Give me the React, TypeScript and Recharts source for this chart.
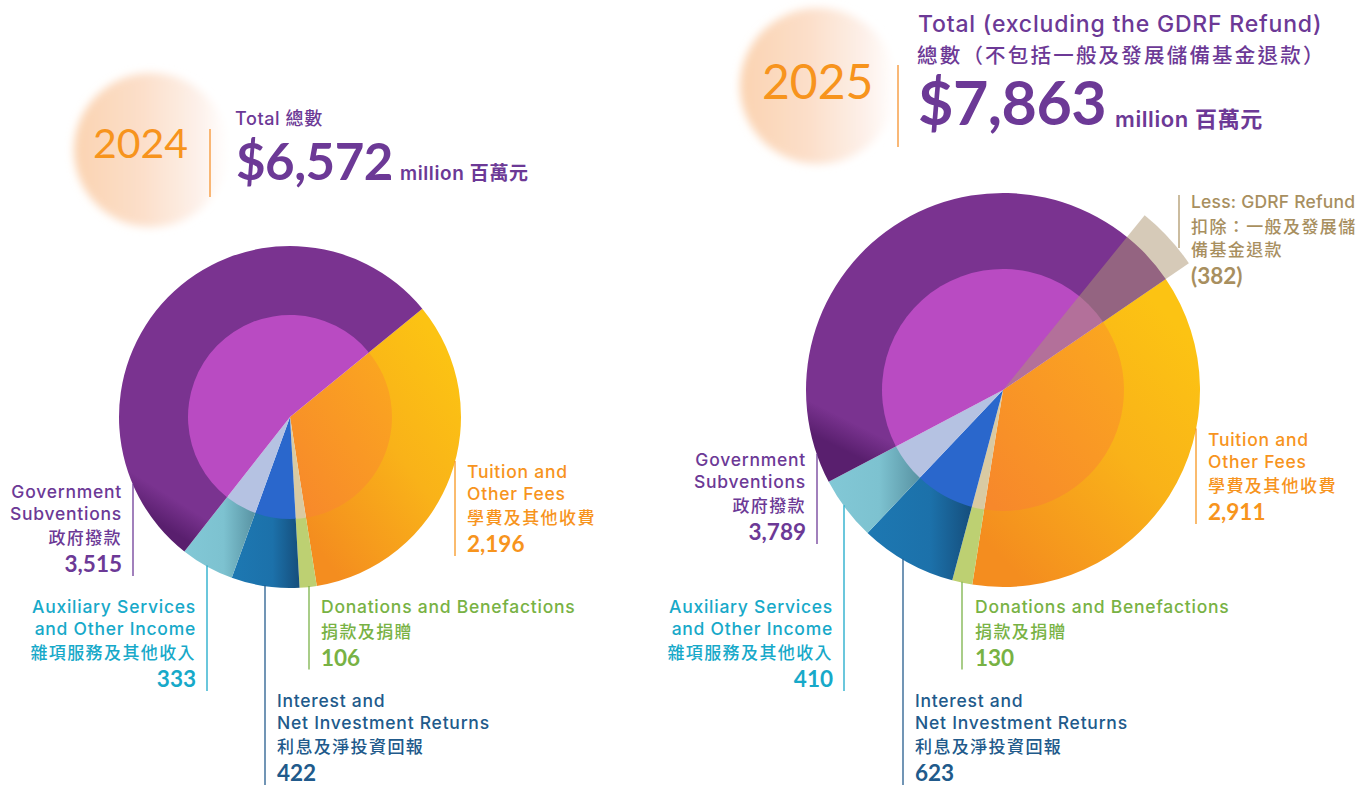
import React from 'react';
import { PieChart, Pie, Cell } from 'recharts';

// categories, clockwise from the top-right edge of the tuition slice
const CATEGORY_EN: string[][] = [
  ['Tuition and', 'Other Fees'],
  ['Donations and Benefactions'],
  ['Interest and', 'Net Investment Returns'],
  ['Auxiliary Services', 'and Other Income'],
  ['Government', 'Subventions'],
];
const CATEGORY_ZH: string[] = ['學費及其他收費', '捐款及捐贈', '利息及淨投資回報', '雜項服務及其他收入', '政府撥款'];

const VALUES_2024: number[] = [2196, 106, 422, 333, 3515];
const VALUES_2025: number[] = [2911, 130, 623, 410, 3789];

const REFUND_2025 = 382;
const REFUND_EN: string[] = ['Less: GDRF Refund'];
const REFUND_ZH: string[] = ['扣除：一般及發展儲', '備基金退款'];

const TEXT_COLORS = ['#f7941d', '#78b244', '#215a8b', '#17a9c9', '#6c3996'];
const OUTER_FILLS = ['url(#gTuition)', '#bdd072', 'url(#gInterest)', 'url(#gAux)', 'url(#gGov)'];
const INNER_FILLS = ['url(#gTuitionIn)', '#d9caa2', '#2a67cc', '#b5c2e2', '#b94bc2'];
const REFUND_COLOR = '#a88f5f';

const EN_FONT = "Inter, 'Noto Sans CJK TC', sans-serif";
const NUM_FONT = "Lato, 'Noto Sans CJK TC', sans-serif";
const ZH_FONT = "'Noto Sans CJK TC', sans-serif";

// pie geometry
const P24 = { cx: 290, cy: 417, r: 171, ri: 102, start: 39.3 };
const P25 = { cx: 1003, cy: 390, r: 197, ri: 121, start: 34.3, refundR: 225 };

type LabelPos = { anchor: 'start' | 'end'; textX: number; lineX: number; top: number };

const LABELS_2024: LabelPos[] = [
  { anchor: 'start', textX: 467, lineX: 455, top: 478 },
  { anchor: 'start', textX: 321, lineX: 309, top: 613 },
  { anchor: 'start', textX: 277, lineX: 265, top: 707 },
  { anchor: 'end', textX: 196, lineX: 207, top: 613 },
  { anchor: 'end', textX: 122, lineX: 133, top: 498 },
];
const LABELS_2025: LabelPos[] = [
  { anchor: 'start', textX: 1208, lineX: 1196, top: 446 },
  { anchor: 'start', textX: 975, lineX: 962, top: 613 },
  { anchor: 'start', textX: 915, lineX: 903, top: 707 },
  { anchor: 'end', textX: 833, lineX: 844, top: 613 },
  { anchor: 'end', textX: 806, lineX: 817, top: 466 },
];

function labelBlock(en: string[], zh: string[], value: string, color: string, anchor: 'start' | 'end', x: number, top: number, ls = 0.75) {
  const items: React.ReactNode[] = [];
  let y = top;
  en.forEach((t, k) => {
    if (k > 0) y += 21.5;
    items.push(
      <text key={'e' + k} x={x} y={y} textAnchor={anchor} fill={color} fontFamily={EN_FONT}
        fontSize={17.5} fontWeight={500} letterSpacing={ls}>{t}</text>
    );
  });
  zh.forEach((t, k) => {
    y += k === 0 ? 24.5 : 23.5;
    items.push(
      <text key={'z' + k} x={x} y={y} textAnchor={anchor} fill={color} fontFamily={ZH_FONT}
        fontSize={17} fontWeight={500} letterSpacing={1.4}>{t}</text>
    );
  });
  y += 28;
  items.push(
    <text key="v" x={x} y={y} textAnchor={anchor} fill={color} fontFamily={NUM_FONT}
      fontSize={22.5} fontWeight={700}>{value}</text>
  );
  return { items, bottom: y };
}

const makeLabel = (values: number[], layout: LabelPos[], geo: { cx: number; cy: number; r: number }) =>
  (props: any) => {
    const i = props.index as number;
    const l = layout[i];
    if (!l) return null;
    const dx = l.lineX - geo.cx;
    const y0 = geo.cy + Math.sqrt(Math.max(geo.r * geo.r - dx * dx, 0)) - 1;
    const color = TEXT_COLORS[i];
    const block = labelBlock(CATEGORY_EN[i], [CATEGORY_ZH[i]], values[i].toLocaleString('en-US'), color, l.anchor, l.textX, l.top);
    return (
      <g key={'lab' + i}>
        <line x1={l.lineX} x2={l.lineX} y1={y0} y2={Math.min(block.bottom + 4, 787)} stroke={color} strokeWidth={1.5} opacity={0.85} />
        {block.items}
      </g>
    );
  };

const refundLabel = (props: any) => {
  if (props.index !== 0) return null;
  const block = labelBlock(REFUND_EN, REFUND_ZH, `(${REFUND_2025})`, REFUND_COLOR, 'start', 1191, 208, 0.2);
  return (
    <g key="refund">
      <line x1={1179} x2={1179} y1={195} y2={248} stroke={REFUND_COLOR} strokeWidth={1.5} opacity={0.8} />
      {block.items}
    </g>
  );
};

const pie2024 = VALUES_2024.map((v, i) => ({ name: CATEGORY_ZH[i], value: v }));
const pie2025 = VALUES_2025.map((v, i) => ({ name: CATEGORY_ZH[i], value: v }));
const total2024 = VALUES_2024.reduce((a, b) => a + b, 0);
const total2025 = VALUES_2025.reduce((a, b) => a + b, 0);
// refund wedge is sized against the gross total
const refundData = [
  { name: 'refund', value: REFUND_2025 },
  { name: 'rest', value: total2025 },
];

export default function App() {
  return (
    <div style={{ position: 'absolute', left: 0, top: 0, width: 1366, height: 787, background: '#ffffff', overflow: 'hidden' }}>
      <svg width={1366} height={787} style={{ position: 'absolute', left: 0, top: 0 }}>
        <defs>
          <linearGradient id="gTuition" x1="0.9" y1="0.15" x2="0.25" y2="1">
            <stop offset="0" stopColor="#fcc313" />
            <stop offset="0.45" stopColor="#f9b219" />
            <stop offset="1" stopColor="#f48d1f" />
          </linearGradient>
          <linearGradient id="gTuitionIn" x1="1" y1="0" x2="0.1" y2="1">
            <stop offset="0" stopColor="#fba81f" />
            <stop offset="1" stopColor="#f7882b" />
          </linearGradient>
          <linearGradient id="gGov" x1="0.45" y1="0.55" x2="0.2" y2="0.95">
            <stop offset="0" stopColor="#7a3390" />
            <stop offset="0.8" stopColor="#7a3390" />
            <stop offset="1" stopColor="#591f6e" />
          </linearGradient>
          <linearGradient id="gInterest" x1="0" y1="0" x2="1" y2="0">
            <stop offset="0" stopColor="#1d78b2" />
            <stop offset="0.6" stopColor="#1c71aa" />
            <stop offset="1" stopColor="#154e7c" />
          </linearGradient>
          <linearGradient id="gAux" x1="0" y1="0" x2="1" y2="0">
            <stop offset="0" stopColor="#82c8d6" />
            <stop offset="0.55" stopColor="#7dc2d0" />
            <stop offset="1" stopColor="#5892a2" />
          </linearGradient>
          <linearGradient id="gBlob" x1="0" y1="0" x2="1" y2="0">
            <stop offset="0" stopColor="#fbd3b1" />
            <stop offset="0.45" stopColor="#fcdfca" />
            <stop offset="0.8" stopColor="#fdf0e9" />
            <stop offset="1" stopColor="#ffffff" />
          </linearGradient>
          <filter id="fBlur" x="-20%" y="-20%" width="140%" height="140%">
            <feGaussianBlur stdDeviation="4" />
          </filter>
        </defs>

        <circle cx={151} cy={150} r={77} fill="url(#gBlob)" filter="url(#fBlur)" />
        <circle cx={818} cy={86} r={78} fill="url(#gBlob)" filter="url(#fBlur)" />

        {/* 2024 header */}
        <text x={93} y={158} fill="#f7941d" fontFamily={NUM_FONT} fontSize={41}>2024</text>
        <line x1={210} x2={210} y1={129} y2={197} stroke="#f7a04a" strokeWidth={1.5} />
        <text x={235} y={125} fill="#6c3996" fontFamily={EN_FONT} fontSize={18} fontWeight={500} letterSpacing={0.6}>Total 總數</text>
        <text x={236} y={180} fill="#6c3996" fontFamily={NUM_FONT} fontSize={51} fontWeight={700} letterSpacing={-0.5}>
          ${total2024.toLocaleString('en-US')}
        </text>
        <text x={400} y={180} fill="#6c3996" fontFamily={EN_FONT} fontSize={19} fontWeight={600} letterSpacing={0.6}>million 百萬元</text>

        {/* 2025 header */}
        <text x={762} y={99} fill="#f7941d" fontFamily={NUM_FONT} fontSize={48}>2025</text>
        <line x1={898} x2={898} y1={65} y2={147} stroke="#f7a04a" strokeWidth={1.5} />
        <text x={918} y={32} fill="#6c3996" fontFamily={EN_FONT} fontSize={23} fontWeight={500} letterSpacing={0.8}>
          Total (excluding the GDRF Refund)
        </text>
        <text x={917} y={63} fill="#6c3996" fontFamily={ZH_FONT} fontSize={20.5} fontWeight={500} letterSpacing={2.2}>
          總數（不包括一般及發展儲備基金退款）
        </text>
        <text x={918} y={125} fill="#6c3996" fontFamily={NUM_FONT} fontSize={61} fontWeight={700} letterSpacing={-0.5}>
          ${total2025.toLocaleString('en-US')}
        </text>
        <text x={1115} y={127} fill="#6c3996" fontFamily={EN_FONT} fontSize={22} fontWeight={600} letterSpacing={0.6}>million 百萬元</text>
      </svg>

      <div style={{ position: 'absolute', left: 0, top: 0 }}>
        <PieChart width={1366} height={787} margin={{ top: 0, right: 0, bottom: 0, left: 0 }}>
          <Pie
            data={pie2024}
            dataKey="value"
            cx={P24.cx}
            cy={P24.cy}
            innerRadius={P24.ri - 1}
            outerRadius={P24.r}
            startAngle={P24.start}
            endAngle={P24.start - 360}
            stroke="none"
            labelLine={false}
            label={makeLabel(VALUES_2024, LABELS_2024, P24)}
            isAnimationActive={false}
          >
            {pie2024.map((d, i) => <Cell key={d.name} fill={OUTER_FILLS[i]} stroke="none" />)}
          </Pie>
          <Pie
            data={pie2024}
            dataKey="value"
            cx={P24.cx}
            cy={P24.cy}
            innerRadius={0}
            outerRadius={P24.ri}
            startAngle={P24.start}
            endAngle={P24.start - 360}
            stroke="none"
            isAnimationActive={false}
          >
            {pie2024.map((d, i) => <Cell key={d.name} fill={INNER_FILLS[i]} stroke="none" />)}
          </Pie>

          <Pie
            data={pie2025}
            dataKey="value"
            cx={P25.cx}
            cy={P25.cy}
            innerRadius={P25.ri - 1}
            outerRadius={P25.r}
            startAngle={P25.start}
            endAngle={P25.start - 360}
            stroke="none"
            labelLine={false}
            label={makeLabel(VALUES_2025, LABELS_2025, P25)}
            isAnimationActive={false}
          >
            {pie2025.map((d, i) => <Cell key={d.name} fill={OUTER_FILLS[i]} stroke="none" />)}
          </Pie>
          <Pie
            data={pie2025}
            dataKey="value"
            cx={P25.cx}
            cy={P25.cy}
            innerRadius={0}
            outerRadius={P25.ri}
            startAngle={P25.start}
            endAngle={P25.start - 360}
            stroke="none"
            isAnimationActive={false}
          >
            {pie2025.map((d, i) => <Cell key={d.name} fill={INNER_FILLS[i]} stroke="none" />)}
          </Pie>

          <Pie
            data={refundData}
            dataKey="value"
            cx={P25.cx}
            cy={P25.cy}
            innerRadius={0}
            outerRadius={P25.refundR}
            startAngle={P25.start}
            endAngle={P25.start + 360}
            stroke="none"
            labelLine={false}
            label={refundLabel}
            isAnimationActive={false}
          >
            <Cell key="refund" fill="#ad9571" fillOpacity={0.5} stroke="none" />
            <Cell key="rest" fill="none" stroke="none" />
          </Pie>
        </PieChart>
      </div>
    </div>
  );
}
